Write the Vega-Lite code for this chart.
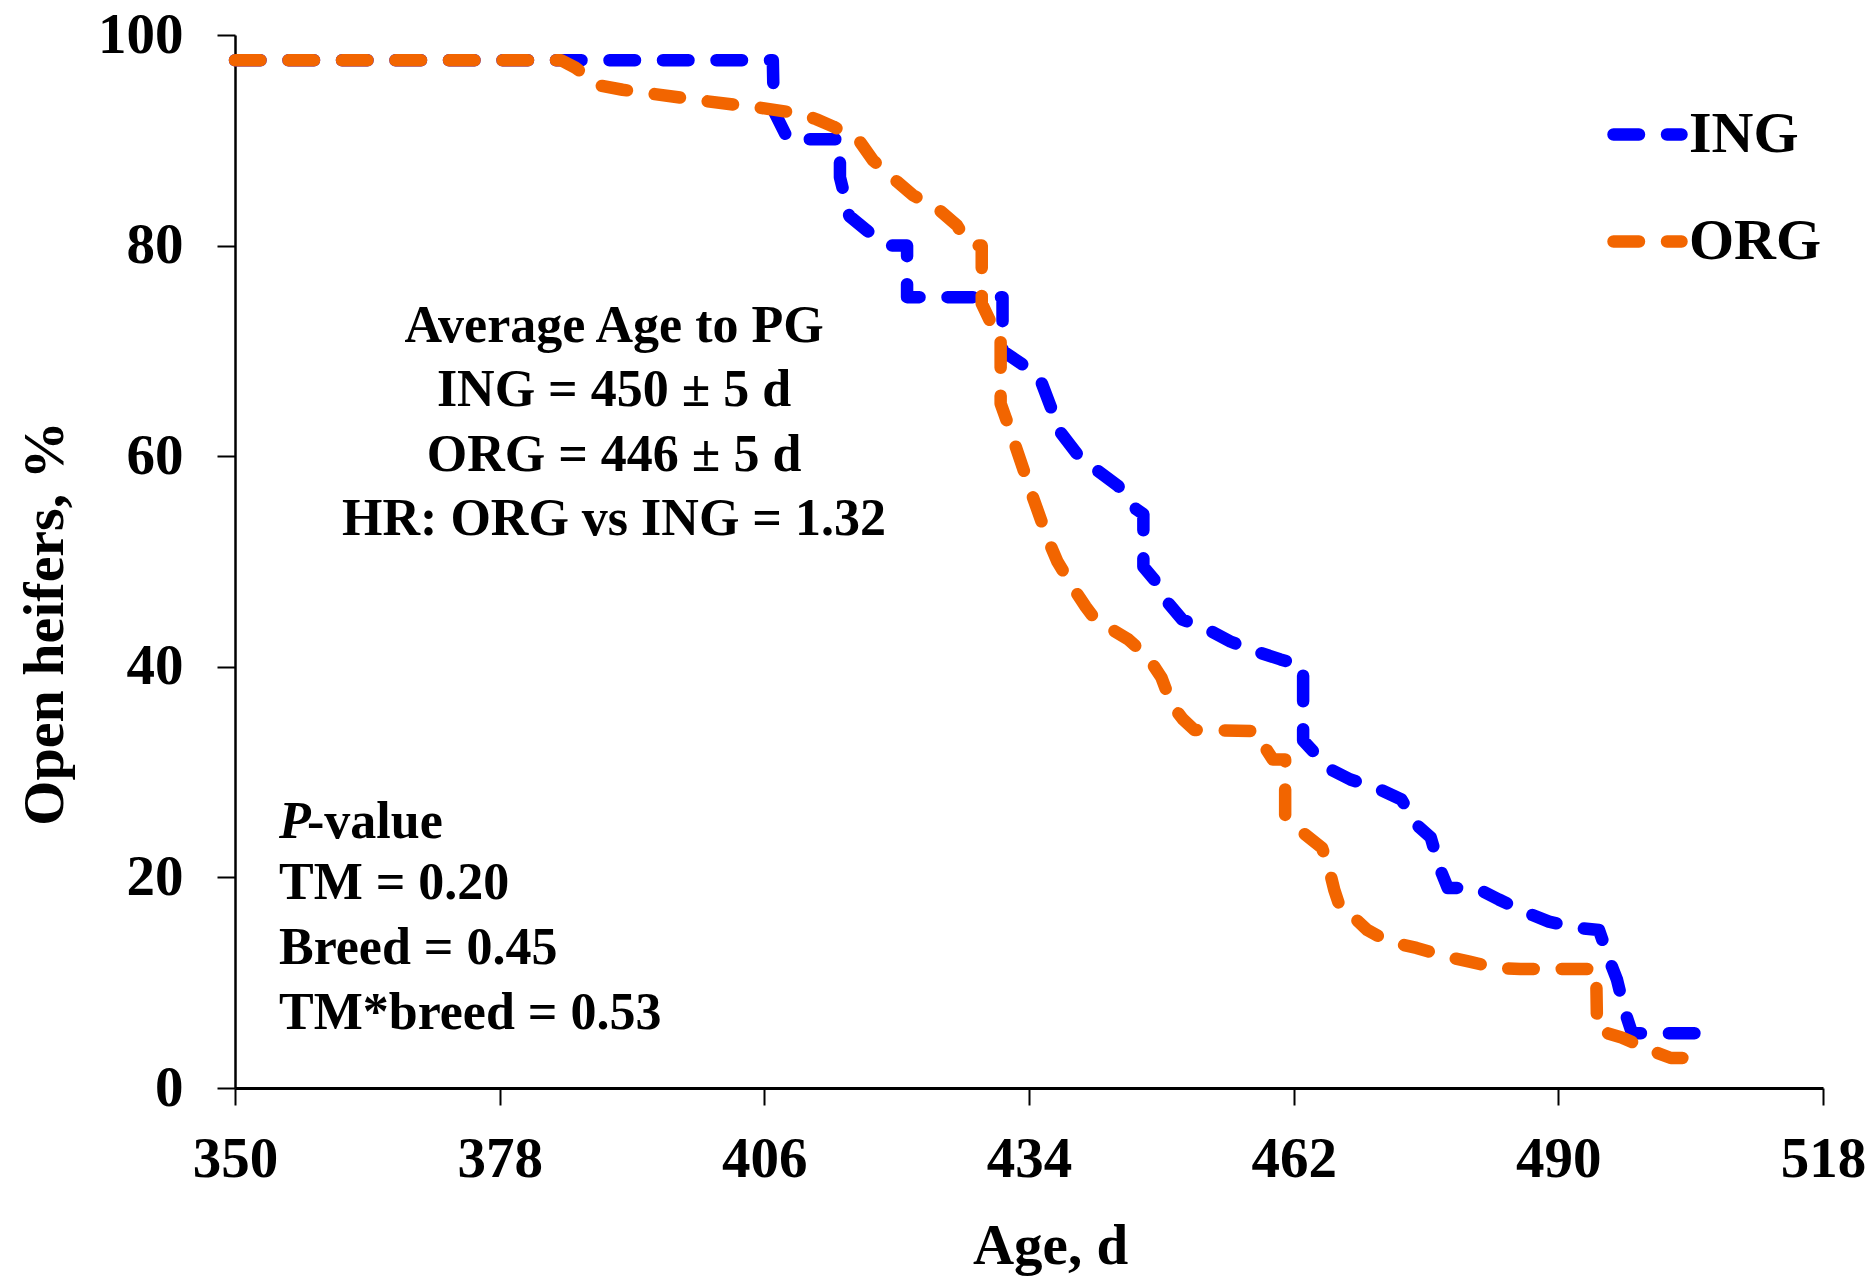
{
  "$schema": "https://vega.github.io/schema/vega-lite/v6.json",
  "width": 1588,
  "height": 1053,
  "autosize": {"type": "none"},
  "padding": {"left": 235, "top": 35, "right": 49, "bottom": 193},
  "background": "white",
  "config": {"view": {"stroke": null}, "font": "Liberation Serif"},
  "data": {
    "values": [
      {"group": "ING", "seq": 1, "age": 350, "pct": 97.6},
      {"group": "ING", "seq": 2, "age": 406.9, "pct": 97.6},
      {"group": "ING", "seq": 3, "age": 407, "pct": 92.8},
      {"group": "ING", "seq": 4, "age": 408.5, "pct": 90.1},
      {"group": "ING", "seq": 5, "age": 414, "pct": 90.1},
      {"group": "ING", "seq": 6, "age": 414, "pct": 86.5},
      {"group": "ING", "seq": 7, "age": 415, "pct": 82.8},
      {"group": "ING", "seq": 8, "age": 416.9, "pct": 81.4},
      {"group": "ING", "seq": 9, "age": 419.3, "pct": 80},
      {"group": "ING", "seq": 10, "age": 421.1, "pct": 80},
      {"group": "ING", "seq": 11, "age": 421.1, "pct": 75.1},
      {"group": "ING", "seq": 12, "age": 431.2, "pct": 75.1},
      {"group": "ING", "seq": 13, "age": 431.2, "pct": 70},
      {"group": "ING", "seq": 14, "age": 433.5, "pct": 68.6},
      {"group": "ING", "seq": 15, "age": 435.2, "pct": 67.3},
      {"group": "ING", "seq": 16, "age": 437.3, "pct": 62.3},
      {"group": "ING", "seq": 17, "age": 439.1, "pct": 60.2},
      {"group": "ING", "seq": 18, "age": 441.3, "pct": 58.6},
      {"group": "ING", "seq": 19, "age": 443.4, "pct": 57.2},
      {"group": "ING", "seq": 20, "age": 445.3, "pct": 55},
      {"group": "ING", "seq": 21, "age": 446.1, "pct": 54.5},
      {"group": "ING", "seq": 22, "age": 446.1, "pct": 49.5},
      {"group": "ING", "seq": 23, "age": 447.5, "pct": 48},
      {"group": "ING", "seq": 24, "age": 448.6, "pct": 46.2},
      {"group": "ING", "seq": 25, "age": 450.2, "pct": 44.5},
      {"group": "ING", "seq": 26, "age": 453.2, "pct": 43.4},
      {"group": "ING", "seq": 27, "age": 455.3, "pct": 42.4},
      {"group": "ING", "seq": 28, "age": 458.2, "pct": 41.4},
      {"group": "ING", "seq": 29, "age": 460.6, "pct": 40.7},
      {"group": "ING", "seq": 30, "age": 463, "pct": 40.1},
      {"group": "ING", "seq": 31, "age": 463, "pct": 33},
      {"group": "ING", "seq": 32, "age": 465.8, "pct": 30.3},
      {"group": "ING", "seq": 33, "age": 468, "pct": 29.3},
      {"group": "ING", "seq": 34, "age": 471, "pct": 28.4},
      {"group": "ING", "seq": 35, "age": 473.4, "pct": 27.4},
      {"group": "ING", "seq": 36, "age": 475, "pct": 25},
      {"group": "ING", "seq": 37, "age": 476.5, "pct": 23.8},
      {"group": "ING", "seq": 38, "age": 477.4, "pct": 21},
      {"group": "ING", "seq": 39, "age": 478.3, "pct": 19},
      {"group": "ING", "seq": 40, "age": 481.3, "pct": 19},
      {"group": "ING", "seq": 41, "age": 483.7, "pct": 17.9},
      {"group": "ING", "seq": 42, "age": 486.5, "pct": 16.7},
      {"group": "ING", "seq": 43, "age": 489, "pct": 15.8},
      {"group": "ING", "seq": 44, "age": 492, "pct": 15.2},
      {"group": "ING", "seq": 45, "age": 494.3, "pct": 15},
      {"group": "ING", "seq": 46, "age": 495.3, "pct": 12.4},
      {"group": "ING", "seq": 47, "age": 496.2, "pct": 10.3},
      {"group": "ING", "seq": 48, "age": 497, "pct": 7.4},
      {"group": "ING", "seq": 49, "age": 497.8, "pct": 5.2},
      {"group": "ING", "seq": 50, "age": 507.3, "pct": 5.2},
      {"group": "ORG", "seq": 1, "age": 350, "pct": 97.6},
      {"group": "ORG", "seq": 2, "age": 384.5, "pct": 97.6},
      {"group": "ORG", "seq": 3, "age": 386, "pct": 96.9},
      {"group": "ORG", "seq": 4, "age": 388.6, "pct": 95.2},
      {"group": "ORG", "seq": 5, "age": 391, "pct": 94.8},
      {"group": "ORG", "seq": 6, "age": 394.3, "pct": 94.4},
      {"group": "ORG", "seq": 7, "age": 400, "pct": 93.7},
      {"group": "ORG", "seq": 8, "age": 405.5, "pct": 93.1},
      {"group": "ORG", "seq": 9, "age": 410, "pct": 92.5},
      {"group": "ORG", "seq": 10, "age": 411.5, "pct": 92},
      {"group": "ORG", "seq": 11, "age": 413.3, "pct": 91.3},
      {"group": "ORG", "seq": 12, "age": 416, "pct": 90},
      {"group": "ORG", "seq": 13, "age": 417.5, "pct": 88.1},
      {"group": "ORG", "seq": 14, "age": 420, "pct": 86.1},
      {"group": "ORG", "seq": 15, "age": 421.7, "pct": 84.8},
      {"group": "ORG", "seq": 16, "age": 424.6, "pct": 83.3},
      {"group": "ORG", "seq": 17, "age": 426.4, "pct": 81.9},
      {"group": "ORG", "seq": 18, "age": 427.2, "pct": 80.7},
      {"group": "ORG", "seq": 19, "age": 428, "pct": 80},
      {"group": "ORG", "seq": 20, "age": 429, "pct": 80},
      {"group": "ORG", "seq": 21, "age": 429, "pct": 74.5},
      {"group": "ORG", "seq": 22, "age": 429.9, "pct": 72.8},
      {"group": "ORG", "seq": 23, "age": 431, "pct": 72.1},
      {"group": "ORG", "seq": 24, "age": 431, "pct": 65},
      {"group": "ORG", "seq": 25, "age": 432.3, "pct": 61.7},
      {"group": "ORG", "seq": 26, "age": 434.1, "pct": 56.9},
      {"group": "ORG", "seq": 27, "age": 436, "pct": 52.1},
      {"group": "ORG", "seq": 28, "age": 437, "pct": 50},
      {"group": "ORG", "seq": 29, "age": 438.6, "pct": 47.6},
      {"group": "ORG", "seq": 30, "age": 440, "pct": 45.7},
      {"group": "ORG", "seq": 31, "age": 441, "pct": 44.5},
      {"group": "ORG", "seq": 32, "age": 442.3, "pct": 43.8},
      {"group": "ORG", "seq": 33, "age": 444.5, "pct": 42.6},
      {"group": "ORG", "seq": 34, "age": 446.6, "pct": 40.9},
      {"group": "ORG", "seq": 35, "age": 448, "pct": 39},
      {"group": "ORG", "seq": 36, "age": 449.1, "pct": 36.4},
      {"group": "ORG", "seq": 37, "age": 450.3, "pct": 35},
      {"group": "ORG", "seq": 38, "age": 451.5, "pct": 34},
      {"group": "ORG", "seq": 39, "age": 458.1, "pct": 33.9},
      {"group": "ORG", "seq": 40, "age": 459, "pct": 32.3},
      {"group": "ORG", "seq": 41, "age": 459.8, "pct": 31.2},
      {"group": "ORG", "seq": 42, "age": 461.1, "pct": 31.2},
      {"group": "ORG", "seq": 43, "age": 461.1, "pct": 25.8},
      {"group": "ORG", "seq": 44, "age": 462.2, "pct": 24.8},
      {"group": "ORG", "seq": 45, "age": 465, "pct": 22.8},
      {"group": "ORG", "seq": 46, "age": 465.7, "pct": 21},
      {"group": "ORG", "seq": 47, "age": 466.3, "pct": 18.8},
      {"group": "ORG", "seq": 48, "age": 467, "pct": 16.9},
      {"group": "ORG", "seq": 49, "age": 468, "pct": 16.5},
      {"group": "ORG", "seq": 50, "age": 469.8, "pct": 15},
      {"group": "ORG", "seq": 51, "age": 471.2, "pct": 14.3},
      {"group": "ORG", "seq": 52, "age": 472.6, "pct": 13.8},
      {"group": "ORG", "seq": 53, "age": 475, "pct": 13.3},
      {"group": "ORG", "seq": 54, "age": 478, "pct": 12.5},
      {"group": "ORG", "seq": 55, "age": 480.6, "pct": 12},
      {"group": "ORG", "seq": 56, "age": 483.5, "pct": 11.4},
      {"group": "ORG", "seq": 57, "age": 486, "pct": 11.3},
      {"group": "ORG", "seq": 58, "age": 494, "pct": 11.3},
      {"group": "ORG", "seq": 59, "age": 494.1, "pct": 5.5},
      {"group": "ORG", "seq": 60, "age": 496.7, "pct": 4.8},
      {"group": "ORG", "seq": 61, "age": 499.7, "pct": 3.6},
      {"group": "ORG", "seq": 62, "age": 501.9, "pct": 2.85},
      {"group": "ORG", "seq": 63, "age": 506, "pct": 2.85}
    ]
  },
  "layer": [
    {
      "mark": {"type": "line", "strokeWidth": 12.5, "strokeDash": [25.5, 28], "strokeCap": "round", "strokeJoin": "round"},
      "encoding": {
        "x": {
          "field": "age", "type": "quantitative",
          "scale": {"domain": [350, 518], "nice": false, "zero": false},
          "axis": {
            "values": [350, 378, 406, 434, 462, 490, 518],
            "title": "Age, d", "grid": false,
            "domainColor": "black", "domainWidth": 3,
            "tickColor": "black", "tickWidth": 2, "tickSize": 17,
            "labelFont": "Liberation Serif", "labelFontWeight": "bold", "labelFontSize": 57, "labelColor": "black",
            "labelPadding": 26, "labelFlush": false, "labelOverlap": false,
            "titleFont": "Liberation Serif", "titleFontWeight": "bold", "titleFontSize": 57, "titleColor": "black",
            "titleX": 815, "titleY": 175, "titleBaseline": "alphabetic", "titleAlign": "center"
          }
        },
        "y": {
          "field": "pct", "type": "quantitative",
          "scale": {"domain": [0, 100], "nice": false},
          "axis": {
            "values": [0, 20, 40, 60, 80, 100],
            "title": "Open heifers, %", "grid": false,
            "domainColor": "black", "domainWidth": 2.5,
            "tickColor": "black", "tickWidth": 2, "tickSize": 18,
            "labelFont": "Liberation Serif", "labelFontWeight": "bold", "labelFontSize": 57, "labelColor": "black",
            "labelPadding": 34, "labelFlush": false, "labelOverlap": false, "labelBaseline": "middle",
            "titleFont": "Liberation Serif", "titleFontWeight": "bold", "titleFontSize": 58, "titleColor": "black",
            "titleX": -173, "titleY": 588, "titleAngle": 270, "titleBaseline": "alphabetic", "titleAlign": "center"
          }
        },
        "color": {
          "field": "group", "type": "nominal",
          "scale": {"domain": ["ING", "ORG"], "range": ["#0000FF", "#F26500"]},
          "legend": {
            "orient": "none", "legendX": 1372, "legendY": 59, "title": null,
            "symbolType": "stroke", "symbolSize": 4624, "symbolStrokeWidth": 12.5, "symbolDash": [25.5, 28],
            "labelFont": "Liberation Serif", "labelFontSize": 58, "labelFontWeight": "bold", "labelColor": "black",
            "labelOffset": 1, "rowPadding": 37, "padding": 0,
            "encode": {"symbols": {"update": {"strokeCap": {"value": "round"}}}}
          }
        },
        "order": {"field": "seq", "type": "quantitative"}
      }
    },
    {
      "data": {"values": [{"note": "top"}]},
      "mark": {"type": "text", "font": "Liberation Serif", "fontWeight": "bold", "fontSize": 52, "color": "black", "align": "center", "baseline": "alphabetic", "lineHeight": 64.5,
        "text": ["Average Age to PG", "ING = 450 ± 5 d", "ORG = 446 ± 5 d", "HR: ORG vs ING = 1.32"]},
      "encoding": {"x": {"datum": 390.1, "type": "quantitative"}, "y": {"datum": 70.85, "type": "quantitative"}}
    },
    {
      "data": {"values": [{"note": "p"}]},
      "mark": {"type": "text", "font": "Liberation Serif", "fontWeight": "bold", "fontStyle": "italic", "fontSize": 52, "color": "black", "align": "left", "baseline": "alphabetic", "text": "P"},
      "encoding": {"x": {"datum": 354.65, "type": "quantitative"}, "y": {"datum": 23.75, "type": "quantitative"}}
    },
    {
      "data": {"values": [{"note": "pv"}]},
      "mark": {"type": "text", "font": "Liberation Serif", "fontWeight": "bold", "fontSize": 52, "color": "black", "align": "left", "baseline": "alphabetic", "dx": 28, "text": "-value"},
      "encoding": {"x": {"datum": 354.65, "type": "quantitative"}, "y": {"datum": 23.75, "type": "quantitative"}}
    },
    {
      "data": {"values": [{"note": "pvals"}]},
      "mark": {"type": "text", "font": "Liberation Serif", "fontWeight": "bold", "fontSize": 52, "color": "black", "align": "left", "baseline": "alphabetic", "lineHeight": 65,
        "text": ["TM = 0.20", "Breed = 0.45", "TM*breed = 0.53"]},
      "encoding": {"x": {"datum": 354.65, "type": "quantitative"}, "y": {"datum": 17.95, "type": "quantitative"}}
    }
  ]
}
